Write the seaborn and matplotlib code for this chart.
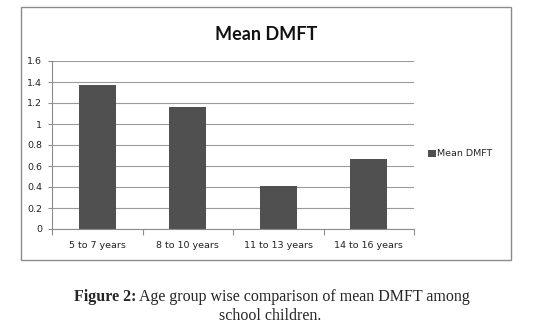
import matplotlib
matplotlib.use("Agg")
import matplotlib.pyplot as plt
import matplotlib.patches as mpatches
import pandas as pd
import seaborn as sns

# Data
age_groups = ["5 to 7 years", "8 to 10 years", "11 to 13 years", "14 to 16 years"]
mean_dmft = [1.37, 1.16, 0.41, 0.67]
y_ticks = [0, 0.2, 0.4, 0.6, 0.8, 1, 1.2, 1.4, 1.6]
y_tick_labels = ["0", "0.2", "0.4", "0.6", "0.8", "1", "1.2", "1.4", "1.6"]

df = pd.DataFrame({"group": age_groups, "dmft": mean_dmft})

sns.set_style("white")
plt.rcParams['font.family'] = ['DejaVu Sans']

W, H = 553, 331
fig = plt.figure(figsize=(W / 100, H / 100), dpi=100)

def px(x0, y0, x1, y1):
    # pixel box (top-left origin) -> figure fraction rect
    return [x0 / W, 1 - y1 / H, (x1 - x0) / W, (y1 - y0) / H]

# outer chart frame
frame = mpatches.Rectangle((21 / W, 1 - 260 / H), 490 / W, 253 / H, transform=fig.transFigure,
                           fill=False, edgecolor='#8c8c8c', linewidth=1.0)
fig.patches.append(frame)

ax = fig.add_axes(px(52, 61, 414, 229))
sns.barplot(data=df, x="group", y="dmft", color='#505050', width=0.41, saturation=1,
            label="Mean DMFT", linewidth=0, ax=ax)
if ax.get_legend() is not None:
    ax.get_legend().remove()

ax.set_ylim(0, 1.6)
ax.set_xlim(-0.5, 3.5)
ax.set_yticks(y_ticks)
ax.set_yticklabels(y_tick_labels, fontsize=6.8, color='#222222')
ax.yaxis.grid(True, color='#9a9a9a', linewidth=0.8)
ax.set_axisbelow(True)
ax.set_xlabel("")
ax.set_ylabel("")

for s in ['top', 'right']:
    ax.spines[s].set_visible(False)
for s in ['left', 'bottom']:
    ax.spines[s].set_color('#8c8c8c')
    ax.spines[s].set_linewidth(0.8)

ax.tick_params(axis='y', length=3, width=0.8, color='#8c8c8c', pad=4, left=True)
ax.tick_params(axis='x', which='major', length=0, pad=9, labelsize=6.8, labelcolor='#222222')
ax.set_xticks([-0.5, 0.5, 1.5, 2.5, 3.5], minor=True)
ax.tick_params(axis='x', which='minor', length=4, width=0.8, color='#8c8c8c', bottom=True)

fig.text(266 / W, 1 - 34 / H, "Mean DMFT", ha='center', va='center',
         fontsize=13, fontweight='bold', family=['Lato', 'DejaVu Sans'], color='#111111')

handles, labels = ax.get_legend_handles_labels()
fig.legend(handles, labels, loc='center left', bbox_to_anchor=(428 / W, 1 - 154 / H),
           frameon=False, fontsize=6.8, handlelength=0.8, handleheight=0.8,
           handletextpad=0.2, borderaxespad=0, borderpad=0)

cap_font = ['Liberation Serif', 'DejaVu Serif']
t1 = fig.text(74 / W, 1 - 297 / H, "Figure 2:", ha='left', va='center', fontsize=11.5,
              fontweight='bold', family=cap_font)
fig.canvas.draw()
bb = t1.get_window_extent()
fig.text((bb.x1 + 3) / W, 1 - 297 / H, "Age group wise comparison of mean DMFT among",
         ha='left', va='center', fontsize=11.5, family=cap_font)
fig.text(270 / W, 1 - 316 / H, "school children.", ha='center', va='center',
         fontsize=11.5, family=cap_font)

fig.savefig("out.png", dpi=100, facecolor='white')
